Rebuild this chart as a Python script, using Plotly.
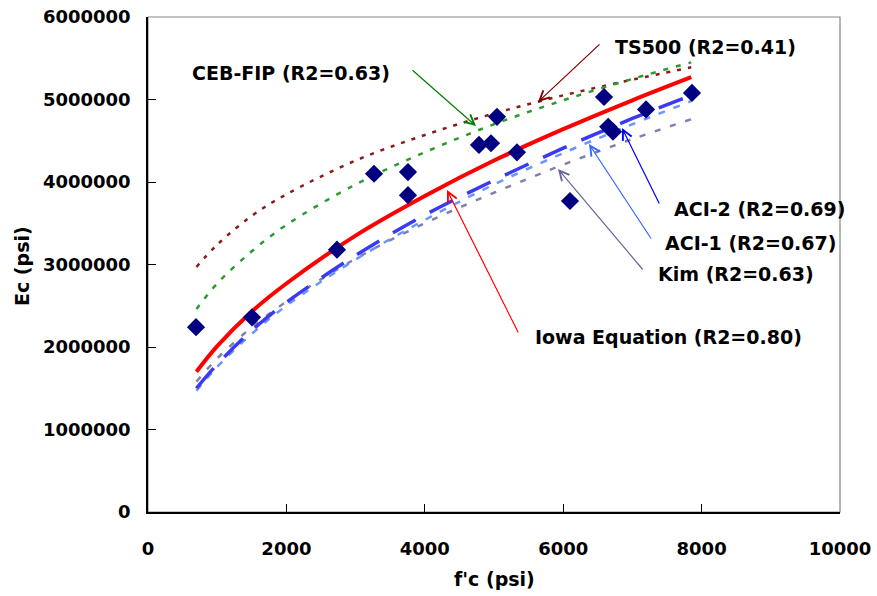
import plotly.graph_objects as go

# ---- data ----
fc_curve = [700, 1000, 1500, 2000, 3000, 4000, 5000, 6000, 7000, 7850]
ec_iowa = [1700000, 2010000, 2430000, 2770000, 3350000, 3830000, 4260000, 4640000, 4990000, 5270000]
ec_cebfip = [2460000, 2770000, 3160000, 3480000, 3970000, 4360000, 4700000, 4990000, 5250000, 5450000]
ec_ts500 = [2970000, 3240000, 3590000, 3850000, 4260000, 4570000, 4830000, 5050000, 5240000, 5390000]
ec_aci2 = [1500000, 1790000, 2200000, 2540000, 3110000, 3600000, 4020000, 4410000, 4770000, 5050000]
ec_aci1 = [1470000, 1760000, 2160000, 2500000, 3060000, 3540000, 3970000, 4350000, 4700000, 4980000]
ec_kim = [1580000, 1860000, 2240000, 2550000, 3070000, 3500000, 3870000, 4210000, 4520000, 4760000]

fc_test = [694, 1503, 2731, 3266, 3757, 3757, 4783, 4957, 5043, 5332, 6098, 6590, 6650, 6720, 7197, 7861]
ec_test = [2240000, 2360000, 3180000, 4100000, 4120000, 3840000, 4450000, 4470000, 4790000, 4360000,
           3770000, 5030000, 4670000, 4610000, 4880000, 5080000]

x_ticks = [0, 2000, 4000, 6000, 8000, 10000]
y_ticks = [0, 1000000, 2000000, 3000000, 4000000, 5000000, 6000000]

labels = ["CEB-FIP (R2=0.63)", "TS500 (R2=0.41)", "ACI-2 (R2=0.69)",
          "ACI-1 (R2=0.67)", "Kim (R2=0.63)", "Iowa Equation (R2=0.80)"]

FONT = "DejaVu Sans"

fig = go.Figure()

def curve(y, color, width, dash):
    fig.add_trace(go.Scatter(x=fc_curve, y=y, mode="lines", line_shape="spline",
                             line=dict(color=color, width=width, dash=dash),
                             showlegend=False, hoverinfo="skip"))

curve(ec_ts500, "#8B1A1A", 2.5, "4px,7px")
curve(ec_cebfip, "#2E9A2E", 2.5, "5px,8px")
curve(ec_kim, "#8080B0", 2.5, "6px,10px")
curve(ec_aci1, "#6A95FF", 2.5, "7px,9px")
curve(ec_aci2, "#3A3AF5", 3.5, "26px,16px")
curve(ec_iowa, "#FF0000", 4, "solid")

fig.add_trace(go.Scatter(x=fc_test, y=ec_test, mode="markers",
                         marker=dict(symbol="diamond", size=14, color="#000080"),
                         showlegend=False, hoverinfo="skip"))

PX0, PX1, PY0, PY1 = 148, 840, 512, 17

def px2x(px):
    return (px - PX0) / (PX1 - PX0) * 10000

def py2y(py):
    return (PY0 - py) / (PY0 - PY1) * 6000000

# arrows: (tail px, tail py, head px, head py, colour)
arrows = [
    (411, 69, 476, 126, "#008000"),
    (601, 43, 538, 102, "#800000"),
    (660, 205, 622, 128, "#0000FF"),
    (652, 240, 589, 144, "#3366FF"),
    (644, 271, 558, 169, "#666699"),
    (519, 334, 447, 190, "#FF0000"),
]
for tx, ty, hx, hy, c in arrows:
    fig.add_annotation(x=px2x(hx), y=py2y(hy), ax=px2x(tx), ay=py2y(ty),
                       xref="x", yref="y", axref="x", ayref="y",
                       showarrow=True, arrowhead=5, arrowsize=1.6, arrowwidth=1.2,
                       arrowcolor=c, text="")

# label positions (left px, centre py)
label_pos = [(190, 73), (613, 47), (672, 209), (663, 243), (656, 274), (533, 337)]
for txt, (lx, ly) in zip(labels, label_pos):
    fig.add_annotation(x=(lx - PX0) / (PX1 - PX0), y=(PY0 - ly) / (PY0 - PY1),
                       xref="paper", yref="paper", xanchor="left", yanchor="middle",
                       showarrow=False, text="<b>%s</b>" % txt,
                       font=dict(family=FONT, size=19, color="#000000"))

# axis titles
fig.add_annotation(x=0.5, y=(PY0 - 579) / (PY0 - PY1), xref="paper", yref="paper",
                   xanchor="center", yanchor="middle",
                   showarrow=False, text="<b>f'c (psi)</b>",
                   font=dict(family=FONT, size=19, color="#000000"))
fig.add_annotation(x=(22 - PX0) / (PX1 - PX0), y=(PY0 - 266) / (PY0 - PY1),
                   xref="paper", yref="paper", xanchor="center", yanchor="middle",
                   showarrow=False, text="<b>Ec (psi)</b>", textangle=-90,
                   font=dict(family=FONT, size=19, color="#000000"))

# grey plot-area frame
fig.add_shape(type="rect", xref="paper", yref="paper", x0=0, y0=0, x1=1, y1=1,
              line=dict(color="#888888", width=1.2), layer="below")

fig.update_xaxes(range=[0, 10000], tickvals=x_ticks, ticktext=["<b>%d</b>" % v for v in x_ticks],
                 automargin=False,
                 showgrid=False, zeroline=False, showline=True, linecolor="#000000", linewidth=1.5,
                 ticks="inside", ticklen=8, tickcolor="#000000", tickwidth=1,
                 ticklabelstandoff=20,
                 tickfont=dict(family=FONT, size=18, color="#000000"))
fig.update_yaxes(range=[0, 6000000], tickvals=y_ticks, ticktext=["<b>%d</b>" % v for v in y_ticks],
                 automargin=False,
                 showgrid=False, zeroline=False, showline=True, linecolor="#000000", linewidth=1.5,
                 ticks="inside", ticklen=8, tickcolor="#000000", tickwidth=1,
                 ticklabelstandoff=12,
                 tickfont=dict(family=FONT, size=18, color="#000000"))

fig.update_layout(width=877, height=596,
                  margin=dict(l=PX0, r=877 - PX1, t=PY1, b=596 - PY0),
                  plot_bgcolor="#FFFFFF", paper_bgcolor="#FFFFFF",
                  showlegend=False)

fig.write_html("out.html")
